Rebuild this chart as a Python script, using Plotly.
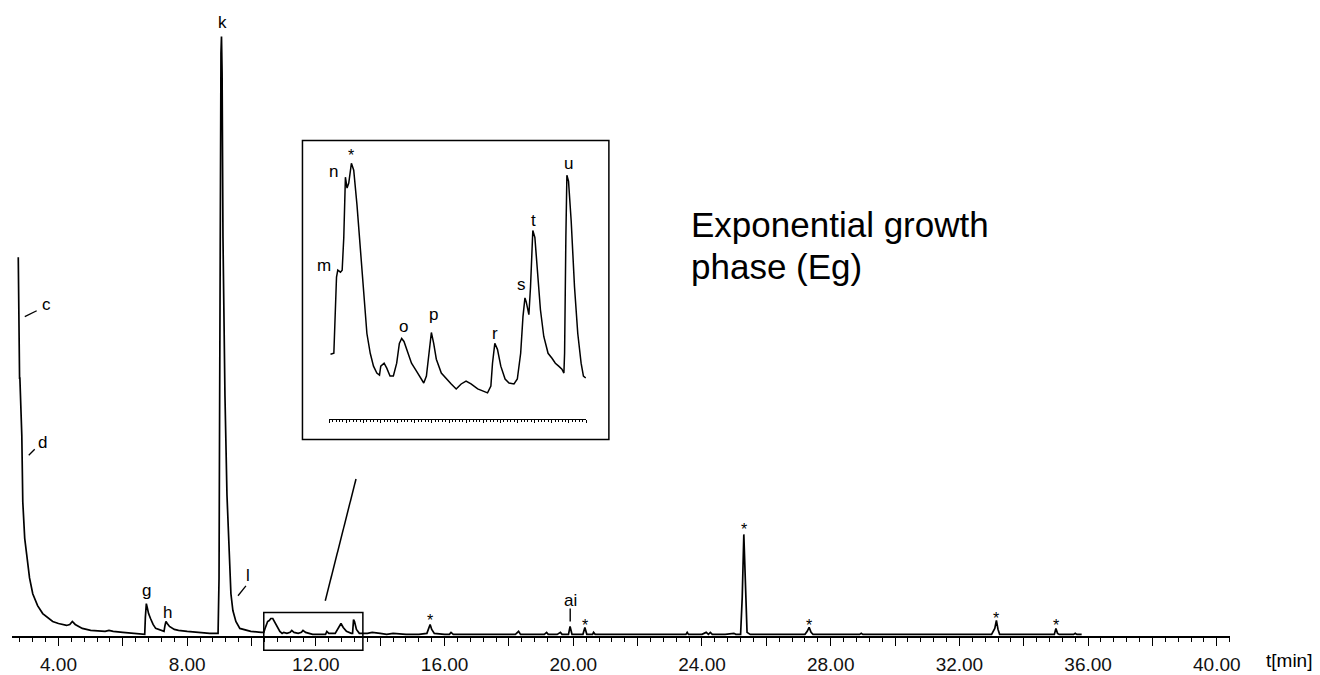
import plotly.graph_objects as go

# ---------------- data ----------------
# main chromatogram: retention time [min] and detector signal (arbitrary units)
main_time = [2.75, 2.76, 2.78, 2.785, 2.79, 2.80, 2.82, 2.86, 2.89, 2.95, 3.01, 3.10, 3.20, 3.35, 3.51,
             3.65, 3.82, 4.00, 4.25, 4.35, 4.43, 4.52, 4.74, 5.00, 5.26, 5.45, 5.57, 5.70, 6.00, 6.28,
             6.60, 6.68, 6.70, 6.73, 6.76, 6.80, 6.86, 6.94, 7.02, 7.20, 7.28, 7.31, 7.34, 7.38, 7.45,
             7.60, 7.73, 8.00, 8.34, 8.70, 8.96, 8.99, 9.01, 9.03, 9.05, 9.066, 9.085, 9.112, 9.174,
             9.236, 9.297, 9.359, 9.42, 9.513, 9.636, 9.975, 10.30, 10.38, 10.42, 10.46, 10.50, 10.55,
             10.60, 10.66, 10.72, 10.80, 10.88, 10.95, 11.00, 11.10, 11.20, 11.25, 11.32, 11.45, 11.55,
             11.60, 11.68, 11.90, 12.10, 12.30, 12.34, 12.40, 12.60, 12.68, 12.72, 12.78, 12.85, 12.95,
             13.10, 13.14, 13.17, 13.20, 13.26, 13.35, 13.46, 13.60, 13.75, 13.90, 14.00, 14.20, 14.40,
             14.80, 15.20, 15.45, 15.50, 15.55, 15.60, 15.68, 16.00, 16.15, 16.20, 16.27, 16.60, 17.00,
             17.40, 18.00, 18.20, 18.30, 18.36, 18.70, 19.10, 19.17, 19.22, 19.50, 19.60, 19.65, 19.85,
             19.90, 19.96, 20.30, 20.36, 20.42, 20.60, 20.63, 20.68, 21.00, 21.50, 22.00, 22.80, 23.50,
             23.54, 23.58, 24.00, 24.13, 24.20, 24.26, 24.32, 24.72, 24.99, 25.05, 25.20, 25.25, 25.30,
             25.35, 25.40, 25.50, 26.00, 27.20, 27.27, 27.33, 27.39, 27.45, 28.90, 28.95, 29.00, 30.00,
             31.00, 32.00, 33.00, 33.10, 33.15, 33.20, 33.25, 34.00, 34.95, 35.00, 35.05, 35.10, 35.55,
             35.60, 35.65, 35.80]
main_signal = [384, 321, 290, 271, 262, 262, 240, 204, 137, 100, 84, 60, 44, 32, 24,
               20, 16, 14, 12, 13, 16, 13, 9, 7, 6, 6, 7, 6, 5, 4,
               3, 3, 20, 34, 30, 24, 19, 13, 9, 7, 6, 12, 16, 14, 11,
               8, 7, 6, 5, 4, 4, 60, 250, 480, 590, 607, 570, 404, 244,
               144, 84, 44, 27, 16, 9, 6, 5, 5, 9, 14, 16, 17,
               19, 19, 15, 10, 6, 4, 5, 4, 5, 7, 5, 4, 5,
               7, 5, 3, 3, 3, 6, 4, 4, 9, 10, 14, 10, 6,
               4, 4, 18, 16, 8, 4, 4, 4, 5, 4, 4, 3, 4,
               3, 3, 4, 8, 13, 8, 4, 3, 3, 5, 3, 3, 3,
               3, 3, 3, 6, 3, 3, 3, 5, 3, 3, 5, 3, 3,
               11, 3, 3, 10, 3, 3, 5, 3, 3, 3, 3, 3, 3,
               5, 3, 3, 5, 3, 5, 3, 3, 4, 3, 3, 40, 104,
               40, 5, 3, 3, 3, 6, 10, 5, 3, 3, 4, 3, 3,
               3, 3, 3, 9, 17, 8, 3, 3, 3, 9, 4, 3, 3,
               4, 3, 3]

# inset: enlarged part of the chromatogram (10.4 - 13.4 min)
inset_time = [10.415, 10.454, 10.485, 10.500, 10.531, 10.551, 10.570, 10.589, 10.608, 10.628, 10.659,
              10.686, 10.724, 10.763, 10.802, 10.840, 10.879, 10.917, 10.956, 10.987, 11.002, 11.041,
              11.072, 11.110, 11.149, 11.188, 11.219, 11.246, 11.273, 11.303, 11.361, 11.419, 11.477,
              11.504, 11.535, 11.566, 11.593, 11.620, 11.651, 11.709, 11.767, 11.825, 11.883, 11.941,
              11.998, 12.056, 12.134, 12.192, 12.249, 12.288, 12.307, 12.334, 12.365, 12.404, 12.454,
              12.500, 12.558, 12.597, 12.636, 12.663, 12.686, 12.701, 12.732, 12.751, 12.778, 12.802,
              12.829, 12.867, 12.906, 12.956, 13.002, 13.041, 13.080, 13.118, 13.141, 13.149, 13.164,
              13.176, 13.195, 13.226, 13.265, 13.303, 13.342, 13.369, 13.396]
inset_signal = [65, 66, 143, 150, 148, 150, 183, 244, 233, 238, 258,
                251, 216, 170, 123, 86, 66, 53, 46, 44, 53, 56,
                51, 43, 43, 56, 76, 81, 78, 70, 56, 48, 40,
                36, 43, 70, 87, 76, 60, 46, 40, 35, 30, 35,
                38, 35, 30, 28, 26, 33, 56, 76, 70, 53, 40,
                36, 35, 40, 66, 103, 122, 118, 105, 133, 190, 183,
                150, 110, 83, 66, 61, 56, 53, 50, 46, 66, 183,
                246, 240, 200, 133, 86, 56, 43, 41]

# axis ticks
tick_vals = [4, 6, 8, 10, 12, 14, 16, 18, 20, 22, 24, 26, 28, 30, 32, 34, 36, 38, 40]
tick_text = ["4.00", "", "8.00", "", "12.00", "", "16.00", "", "20.00", "", "24.00", "",
             "28.00", "", "32.00", "", "36.00", "", "40.00"]
inset_ticks = [10.4, 10.6, 10.8, 11.0, 11.2, 11.4, 11.6, 11.8, 12.0, 12.2, 12.4, 12.6, 12.8,
               13.0, 13.2, 13.4]

# asterisk-marked peaks on the main trace (time, signal level of the label)
star_times = [15.55, 20.36, 25.30, 27.33, 33.15, 35.00]
star_levels = [17, 12, 109, 12, 19, 12]

# ---------------- layout helpers ----------------
W, H = 1320, 675
FONT = "Arial, Liberation Sans, sans-serif"


def px(x):
    return x / W


def py(y):
    return 1 - y / H


fig = go.Figure()
fig.add_trace(go.Scatter(x=main_time, y=main_signal, mode="lines",
                         line=dict(color="black", width=1.7), xaxis="x", yaxis="y",
                         hoverinfo="skip"))
fig.add_trace(go.Scatter(x=inset_time, y=inset_signal, mode="lines",
                         line=dict(color="black", width=1.5), xaxis="x2", yaxis="y2",
                         hoverinfo="skip"))

annotations = []


def label(text, x, y, size=17):
    annotations.append(dict(xref="paper", yref="paper", x=px(x), y=py(y), text=text,
                            showarrow=False, xanchor="center", yanchor="middle",
                            font=dict(family=FONT, size=size, color="black")))


# main labels
label("k", 224, 23)
label("c", 47, 308)
label("d", 43, 447)
label("g", 148, 597)
label("h", 169, 619)
label("l", 250, 582)
label("ai", 575, 607)
for t, s in zip(star_times, star_levels):
    annotations.append(dict(xref="x", yref="y", x=t, y=s, text="*", showarrow=False,
                            xanchor="center", yanchor="middle",
                            font=dict(family=FONT, size=16, color="black")))

# inset labels
label("*", 354, 157, 16)
label("n", 336, 173)
label("m", 327, 268)
label("o", 407, 330)
label("p", 437, 318)
label("r", 499, 337)
label("s", 526, 287)
label("t", 538, 223)
label("u", 573, 165)

# axis unit and title
label("t[min]", 1300, 667, 19)
annotations.append(dict(xref="paper", yref="paper", x=px(695), y=py(227), text="Exponential growth",
                        showarrow=False, xanchor="left", yanchor="middle",
                        font=dict(family=FONT, size=35, color="black")))
annotations.append(dict(xref="paper", yref="paper", x=px(695), y=py(269), text="phase (Eg)",
                        showarrow=False, xanchor="left", yanchor="middle",
                        font=dict(family=FONT, size=35, color="black")))

shapes = []


def seg(x0, y0, x1, y1, w=1.3):
    shapes.append(dict(type="line", xref="paper", yref="paper", x0=px(x0), y0=py(y0),
                       x1=px(x1), y1=py(y1), line=dict(color="black", width=w)))


seg(25, 320, 37, 314)      # c leader
seg(29, 460, 35, 454)      # d leader
seg(240, 602, 248, 592)    # l leader
seg(575, 615, 575, 628, 1.4)  # ai leader
seg(359, 484, 328, 607, 1.5)  # connector from inset to box

# inset frame
shapes.append(dict(type="rect", xref="paper", yref="paper", x0=px(305), x1=px(614),
                   y0=py(444), y1=py(142), line=dict(color="black", width=1.5)))
# zoomed region box on the main trace
shapes.append(dict(type="rect", xref="x", yref="y", x0=10.38, x1=13.46, y0=-13, y1=25,
                   line=dict(color="black", width=1.5)))

fig.update_layout(
    width=W, height=H, margin=dict(l=0, r=0, t=0, b=0),
    paper_bgcolor="white", plot_bgcolor="white", showlegend=False,
    font=dict(family=FONT, color="black"),
    xaxis=dict(domain=[px(12), px(1240)], range=[2.552, 40.40], anchor="free",
               position=31 / H, showline=True, linecolor="black", linewidth=1.5,
               ticks="outside", ticklen=8, tickwidth=1.3, tickcolor="black",
               tickmode="array", tickvals=tick_vals, ticktext=tick_text,
               tickfont=dict(family=FONT, size=19, color="#111"), ticklabelstandoff=2,
               showgrid=False, zeroline=False, fixedrange=True,
               minor=dict(ticks="outside", ticklen=4, tickwidth=1, tickcolor="black",
                          tickmode="linear", tick0=0, dtick=0.4, showgrid=False)),
    yaxis=dict(domain=[0, 1], range=[-31, 644], visible=False, fixedrange=True),
    xaxis2=dict(domain=[px(332), px(591)], range=[10.40, 13.40], anchor="y2",
                showline=True, linecolor="black", linewidth=1.2, ticks="outside",
                ticklen=3.5, tickwidth=1, tickcolor="black", tickmode="array",
                tickvals=inset_ticks, showticklabels=False, showgrid=False, zeroline=False,
                fixedrange=True,
                minor=dict(ticks="outside", ticklen=2, tickwidth=0.8, tickcolor="black",
                           tickmode="linear", tick0=10.4, dtick=0.04, showgrid=False)),
    yaxis2=dict(domain=[py(423), py(142)], range=[0, 281], visible=False, anchor="x2",
                fixedrange=True),
    annotations=annotations, shapes=shapes,
)

fig.write_html("out.html")
